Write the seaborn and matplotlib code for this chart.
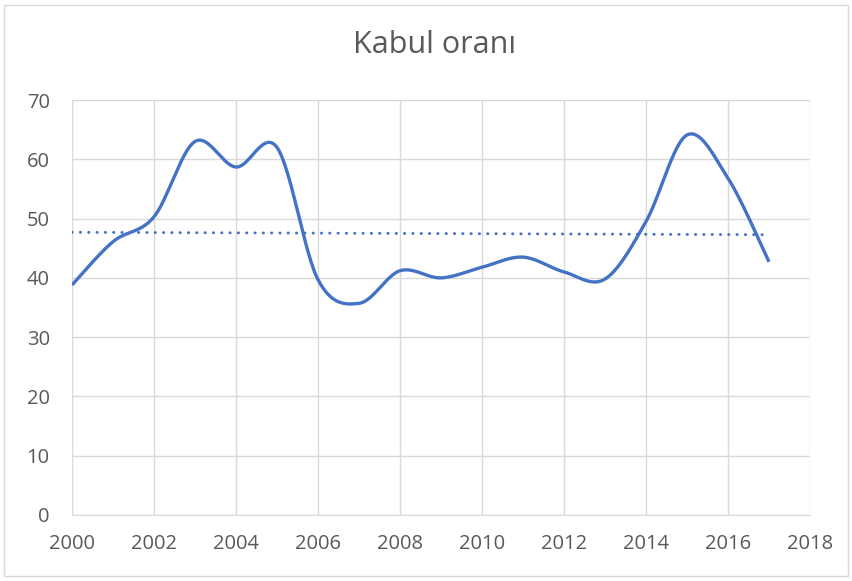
import numpy as np
import pandas as pd
import seaborn as sns
import matplotlib.pyplot as plt
from matplotlib.patches import Rectangle

# Kabul oranı by year
years = [2000, 2001, 2002, 2003, 2004, 2005, 2006, 2007, 2008,
         2009, 2010, 2011, 2012, 2013, 2014, 2015, 2016, 2017]
rate = [38.8, 46.1, 50.3, 63.0, 58.7, 62.0, 39.7, 35.7, 41.2,
        40.0, 41.8, 43.5, 41.0, 39.8, 49.5, 64.1, 56.8, 42.7]

BLUE = "#4472C4"
GRID = "#d9d9d9"
TEXT = "#595959"


def smooth(x, y, n=30):
    # Catmull-Rom style smoothing like Excel's "smoothed line"
    x = np.asarray(x, float)
    y = np.asarray(y, float)
    px = np.concatenate([[x[0]], x, [x[-1]]])
    py = np.concatenate([[y[0]], y, [y[-1]]])
    xs, ys = [], []
    for i in range(1, len(px) - 2):
        p0, p1, p2, p3 = (np.array([px[j], py[j]]) for j in (i - 1, i, i + 1, i + 2))
        c1 = p1 + (p2 - p0) / 6
        c2 = p2 - (p3 - p1) / 6
        t = np.linspace(0, 1, n, endpoint=(i == len(px) - 3))[:, None]
        b = ((1 - t) ** 3) * p1 + 3 * ((1 - t) ** 2) * t * c1 + 3 * (1 - t) * t ** 2 * c2 + t ** 3 * p2
        xs.extend(b[:, 0])
        ys.extend(b[:, 1])
    return np.array(xs), np.array(ys)


sns.set_style("white")
plt.rcParams['font.family'] = ['Open Sans', 'DejaVu Sans']

fig = plt.figure(figsize=(8.53, 5.81), dpi=100)
ax = fig.add_axes([72 / 853, 1 - 515 / 581, (810 - 72) / 853, (515 - 100) / 581])

sx, sy = smooth(years, rate)
curve = pd.DataFrame({"x": sx, "y": sy})
sns.lineplot(data=curve, x="x", y="y", ax=ax, color=BLUE, linewidth=2.4,
             sort=False, estimator=None, solid_capstyle="butt")

# linear trendline
k, b = np.polyfit(years, rate, 1)
trend = pd.DataFrame({"x": [years[0], years[-1]],
                      "y": [k * years[0] + b, k * years[-1] + b]})
sns.lineplot(data=trend, x="x", y="y", ax=ax, color=BLUE, linewidth=2.1,
             linestyle=(0, (0.1, 2.75)), dash_capstyle="round")

ax.set_xlim(2000, 2018)
ax.set_ylim(0, 70)
ax.set_xticks(range(2000, 2019, 2))
ax.set_yticks(range(0, 71, 10))
ax.grid(True, color=GRID, linewidth=1.0)
ax.set_axisbelow(True)
for s in ["top", "right", "left"]:
    ax.spines[s].set_visible(False)
ax.spines["bottom"].set_color(GRID)
ax.tick_params(length=0, labelsize=14.5, colors=TEXT)
ax.tick_params(axis="x", pad=14)
ax.tick_params(axis="y", pad=16)
ax.set_xlabel("")
ax.set_ylabel("")

fig.text(435 / 853, 1 - 45 / 581, "Kabul oranı", ha="center", va="center",
         fontsize=22, color=TEXT)
fig.patches.append(Rectangle((4 / 853, 5 / 581), 844 / 853, 571 / 581,
                             transform=fig.transFigure, fill=False,
                             edgecolor=GRID, linewidth=1.0))

fig.savefig("out.png", dpi=100)
